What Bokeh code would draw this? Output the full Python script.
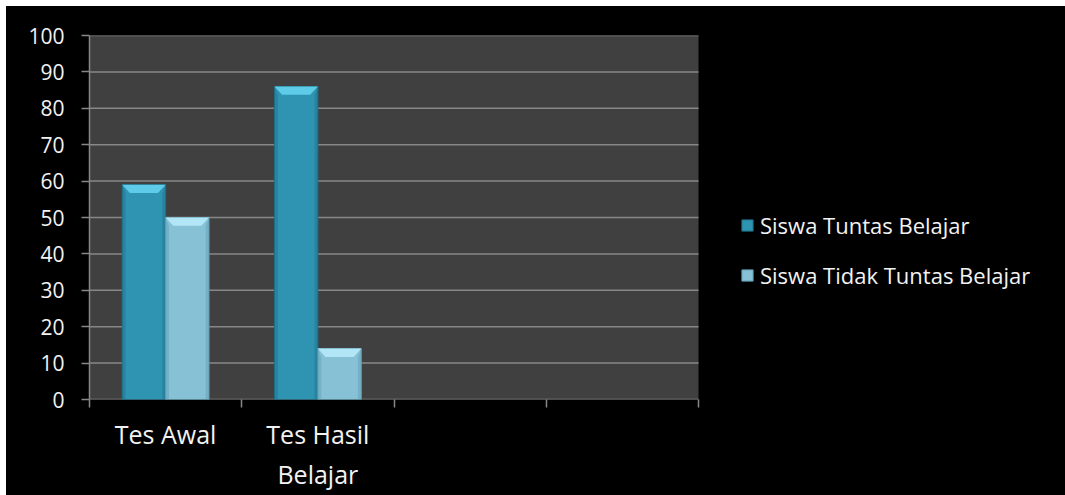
from bokeh.plotting import figure
from bokeh.models import Range1d, FixedTicker, LinearAxis, Legend, LegendItem, ColumnDataSource
from bokeh.embed import file_html
from bokeh.resources import INLINE

categories = ["Tes Awal", "Tes Hasil\nBelajar", "", ""]
tuntas = [59, 86]
tidak_tuntas = [50, 14]
series_names = ["Siswa Tuntas Belajar", "Siswa Tidak Tuntas Belajar"]
y_ticks = list(range(0, 101, 10))

FONT = "Open Sans"
TXT = "#f2f2f2"
GRID = "#878787"
PLOT_BG = "#404040"
c_main = ["#2e94b2", "#86c1d6"]
c_top = ["#5ecbe8", "#b2e6f6"]
c_edge = ["#1f6f87", "#5f9db3"]

n = len(categories)
x_end = n * 976 / 609

p = figure(width=1059, height=489, output_backend="svg", toolbar_location=None,
           x_range=Range1d(0, x_end), y_range=Range1d(0, 100),
           min_border_left=83, min_border_right=0, min_border_top=29, min_border_bottom=96,
           background_fill_color=None, border_fill_color="black",
           outline_line_color=None)
p.styles = {"background-color": "black"}
p.margin = (6, 0, 0, 6)
p.xaxis.visible = False
p.yaxis.visible = False
p.xgrid.visible = False
p.ygrid.visible = False

p.quad(left=0, right=n, bottom=y_ticks[0], top=y_ticks[-1], fill_color=PLOT_BG, line_color=None)
p.segment(x0=[0] * len(y_ticks), x1=[n] * len(y_ticks), y0=y_ticks, y1=y_ticks,
          line_color=GRID, line_width=1.5)

bw = 0.285
bevel = 2.3
side = 0.022
renderers = []
for s, vals in enumerate([tuntas, tidak_tuntas]):
    xs = [i + 0.5 + (s - 0.5) * bw for i in range(len(vals))]
    src = ColumnDataSource(dict(x=xs, top=vals))
    r = p.vbar(x="x", top="top", width=bw, bottom=0, source=src,
               fill_color=c_main[s], line_color=c_edge[s], line_width=1)
    renderers.append(r)
    tx, ty, sx, sy = [], [], [], []
    for x, v in zip(xs, vals):
        l, rr = x - bw / 2, x + bw / 2
        tx.append([l, rr, rr - 0.05, l + 0.05])
        ty.append([v, v, v - bevel, v - bevel])
        sx.append([l, l + side, l + side, l])
        sy.append([v, v - bevel, 0, 0])
        sx.append([rr, rr - side, rr - side, rr])
        sy.append([v, v - bevel, 0, 0])
    p.patches(sx, sy, fill_color=c_edge[s], fill_alpha=0.45, line_color=None)
    p.patches(tx, ty, fill_color=c_top[s], line_color=None)

yax = LinearAxis(ticker=FixedTicker(ticks=y_ticks))
yax.axis_line_color = GRID
yax.axis_line_width = 1.5
yax.major_tick_line_color = GRID
yax.major_tick_line_width = 1.5
yax.major_tick_out = 8
yax.major_tick_in = 0
yax.minor_tick_line_color = None
yax.major_label_standoff = 17
yax.major_label_text_color = TXT
yax.major_label_text_font = FONT
yax.major_label_text_font_size = "21px"
p.add_layout(yax, "left")

centers = [i + 0.5 for i in range(n)]
bounds = list(range(n + 1))
xax = LinearAxis(ticker=FixedTicker(ticks=centers, minor_ticks=bounds))
xax.major_label_overrides = {c: lab for c, lab in zip(centers, categories)}
xax.axis_line_color = None
xax.major_tick_line_color = None
xax.minor_tick_line_color = GRID
xax.minor_tick_line_width = 1.5
xax.minor_tick_out = 8
xax.minor_tick_in = 0
xax.major_label_standoff = 9
xax.major_label_text_color = TXT
xax.major_label_text_font = FONT
xax.major_label_text_font_size = "25px"
p.add_layout(xax, "below")

legend = Legend(items=[LegendItem(label=series_names[i], renderers=[renderers[i]]) for i in range(2)],
                location=(651, 109), orientation="vertical",
                glyph_width=14, glyph_height=14, label_standoff=6,
                label_text_font=FONT, label_text_font_size="22px", label_text_color=TXT,
                label_height=24, spacing=20, padding=0, margin=0,
                background_fill_alpha=0, border_line_color=None)
p.add_layout(legend, "center")

open("out.html", "w").write(file_html(p, INLINE))
